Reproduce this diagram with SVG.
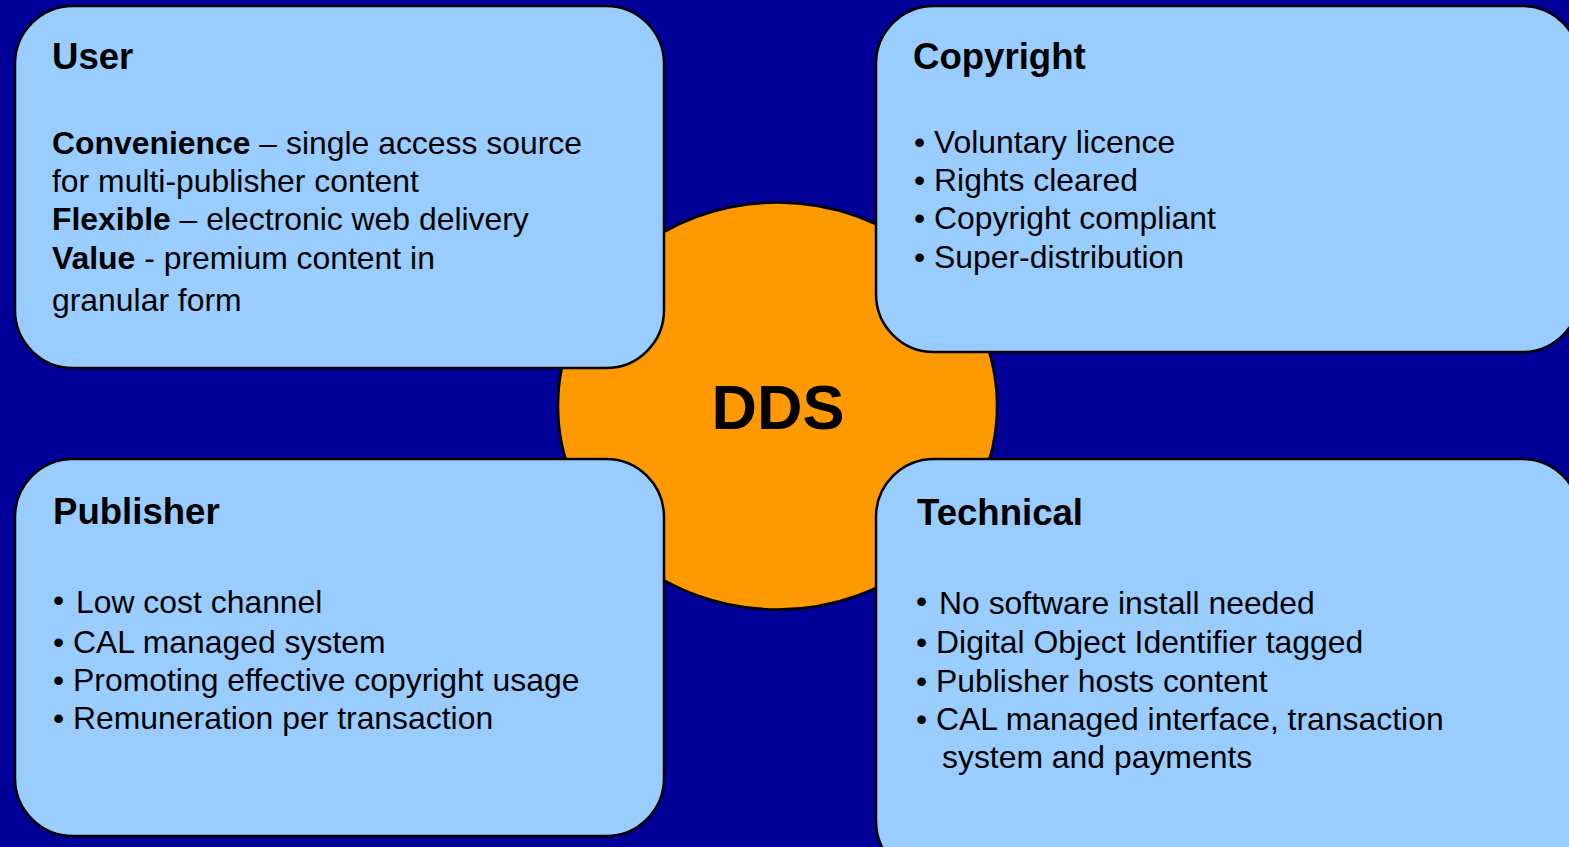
<svg xmlns="http://www.w3.org/2000/svg" width="1569" height="847" viewBox="0 0 1569 847">
<style>
.box{fill:#99CCFF;stroke:#000;stroke-width:2.5}
.hub{fill:#FF9900;stroke:#000;stroke-width:2.5}
text{font-family:"Liberation Sans",Arial,sans-serif;fill:#000}
.t{font-size:36.6px;font-weight:bold}
.b{font-size:31.9px}
.bb{font-weight:bold}
.dds{font-size:63px;font-weight:bold}
</style>
<rect width="1569" height="847" fill="#000099"/>
<g id="hub">
<ellipse class="hub" cx="777.5" cy="406" rx="219.5" ry="203.5"/>
<text class="dds" x="778" y="429" text-anchor="middle">DDS</text>
</g>
<g id="connectors"></g>
<g id="user">
<rect class="box" x="15" y="6" width="649" height="362" rx="58" ry="58"/>
<text class="t" x="52" y="69">User</text>
<text class="b" x="52" y="154"><tspan class="bb">Convenience</tspan> – single access source</text>
<text class="b" x="52" y="192">for multi-publisher content</text>
<text class="b" x="52" y="230"><tspan class="bb">Flexible</tspan> – electronic web delivery</text>
<text class="b" x="52" y="269"><tspan class="bb">Value</tspan> - premium content in</text>
<text class="b" x="52" y="311">granular form</text>
</g>
<g id="copyright">
<rect class="box" x="876" y="6" width="704" height="346" rx="58" ry="58"/>
<text class="t" x="913" y="69">Copyright</text>
<text class="b" x="914" y="153">• Voluntary licence</text>
<text class="b" x="914" y="191">• Rights cleared</text>
<text class="b" x="914" y="229">• Copyright compliant</text>
<text class="b" x="914" y="267.5">• Super-distribution</text>
</g>
<g id="publisher">
<rect class="box" x="15" y="459" width="649" height="377" rx="58" ry="58"/>
<text class="t" x="53" y="524">Publisher</text>
<text class="b" x="53" y="611">•</text>
<text class="b" x="76" y="613">Low cost channel</text>
<text class="b" x="53" y="653">• CAL managed system</text>
<text class="b" x="53" y="691">• Promoting effective copyright usage</text>
<text class="b" x="53" y="729">• Remuneration per transaction</text>
</g>
<g id="technical">
<rect class="box" x="876" y="459" width="704" height="420" rx="58" ry="58"/>
<text class="t" x="917" y="525">Technical</text>
<text class="b" x="916" y="612">•</text>
<text class="b" x="939" y="614">No software install needed</text>
<text class="b" x="916" y="653">• Digital Object Identifier tagged</text>
<text class="b" x="916" y="692">• Publisher hosts content</text>
<text class="b" x="916" y="730">• CAL managed interface, transaction</text>
<text class="b" x="942" y="768">system and payments</text>
</g>
</svg>
